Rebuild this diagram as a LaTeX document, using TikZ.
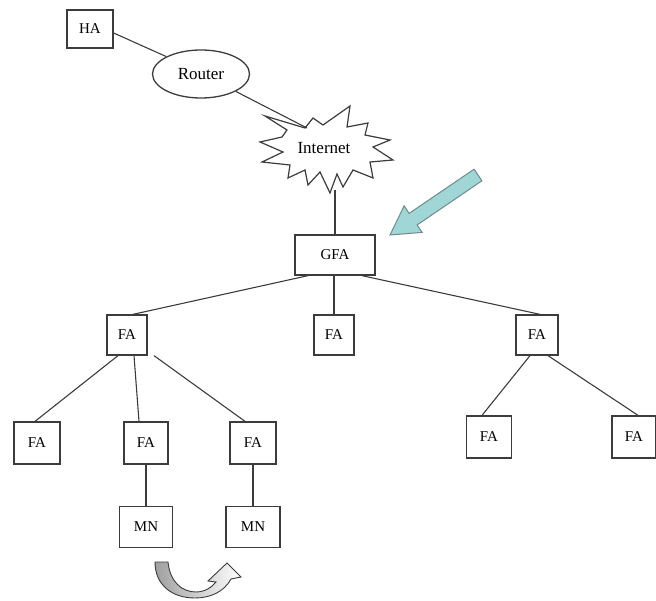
\documentclass[tikz,border=0pt]{standalone}
\usepackage{fontspec}
\setmainfont{Liberation Serif}
\usetikzlibrary{shapes.geometric}
\definecolor{linegray}{RGB}{60,60,60}
\definecolor{teallight}{RGB}{160,214,214}
\definecolor{tealedge}{RGB}{110,140,140}
\tikzset{
  box/.style={draw=linegray, line width=1.3pt, fill=white, inner sep=0pt, font=\fontsize{15}{17}\selectfont},
  bigtext/.style={font=\fontsize{17}{19}\selectfont},
  conn/.style={draw=linegray, line width=1.1pt},
}
\begin{document}
\begin{tikzpicture}[x=1pt,y=-1pt]
\useasboundingbox (0,0) rectangle (656,601);
\coordinate (rin) at (307,128);
\coordinate (inbot) at (335,190);
\node[box, minimum width=46, minimum height=38] (ha) at (90,29) {HA};
\node[box, bigtext, ellipse, minimum width=97, minimum height=48] (router) at (201,74) {Router};
% Internet star
\draw[linegray, line width=1.2pt, fill=white]
  (265,116) -- (305,128) -- (313,118) -- (323,125) -- (350,106) -- (347,127)
  -- (368,123) -- (365,135) -- (390,140) -- (373,147) -- (393,160) -- (370,162)
  -- (373,178) -- (353,170) -- (343,187) -- (337,174) -- (330,193) -- (320,172)
  -- (308,185) -- (305,170) -- (288,178) -- (290,165) -- (262,162) -- (283,152)
  -- (260,142) -- (282,137) -- (287,130) -- cycle;
\node[bigtext] (inet) at (324,148) {Internet};
\node[box, minimum width=80, minimum height=40] (gfa) at (335,255) {GFA};
\node[box, minimum width=40, minimum height=40] (fa1) at (127,335) {FA};
\node[box, minimum width=40, minimum height=40] (fa2) at (334,335) {FA};
\node[box, minimum width=42, minimum height=40] (fa3) at (537,335) {FA};
\node[box, minimum width=46, minimum height=42] (fa11) at (37,443) {FA};
\node[box, minimum width=44, minimum height=42] (fa12) at (146,443) {FA};
\node[box, minimum width=46, minimum height=42] (fa13) at (253,443) {FA};
\node[box, minimum width=45, minimum height=42] (fa31) at (489,437) {FA};
\node[box, minimum width=44, minimum height=42] (fa32) at (634,437) {FA};
\node[box, minimum width=53, minimum height=41] (mn1) at (146,527) {MN};
\node[box, minimum width=54, minimum height=41] (mn2) at (253,527) {MN};
% connectors
\draw[conn] (ha.east) ++(0,4) -- (router.north west);
\draw[conn] (router.south east) -- (rin);
\draw[conn] (inbot) -- (gfa.north);
\draw[conn] ([xshift=-27]gfa.south) -- ([xshift=6]fa1.north);
\draw[conn] (gfa.south -| fa2.north) -- (fa2.north);
\draw[conn] ([xshift=27]gfa.south) -- ([xshift=3]fa3.north);
\draw[conn] ([xshift=-9]fa1.south) -- ([xshift=-2]fa11.north);
\draw[conn] ([xshift=7]fa1.south) -- ([xshift=-7]fa12.north);
\draw[conn] ([xshift=27]fa1.south) -- ([xshift=-8]fa13.north);
\draw[conn] ([xshift=-7]fa3.south) -- ([xshift=-7]fa31.north);
\draw[conn] ([xshift=11]fa3.south) -- ([xshift=4]fa32.north);
\draw[conn] (fa12.south) -- (mn1.north);
\draw[conn] (fa13.south) -- (mn2.north);
% teal arrow
\draw[tealedge, line width=1pt, fill=teallight]
  (474.1,169.2) -- (481.9,180.8) -- (417.1,225.0) -- (422.1,232.4) -- (390,235)
  -- (404.1,205.9) -- (409.1,213.4) -- cycle;
% curved arrow
\shade[left color=gray!75, right color=white, draw=linegray, line width=0.9pt]
  (155,562) -- (168,562) .. controls (170,582) and (182,592) .. (196,592)
  .. controls (205,592) and (212,587) .. (216,582) -- (208,581) -- (227,563)
  -- (241,577) -- (231,579) .. controls (224,592) and (210,598) .. (195,598)
  .. controls (172,598) and (155,585) .. (155,562) -- cycle;
\end{tikzpicture}
\end{document}
